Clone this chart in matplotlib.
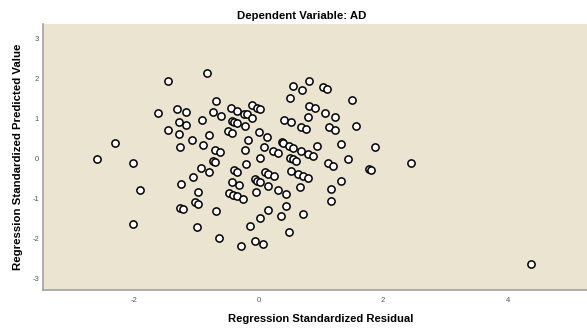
import matplotlib
matplotlib.use('Agg')
import matplotlib.pyplot as plt

# standardized residual (x) vs standardized predicted value (y)
resid = [
    -1.45, -0.83, -1.61, -1.31, -1.16, -0.68, -0.73, -0.60, -0.91, -1.27,
    -1.16, -1.45, -1.27, -1.06, -0.79, -1.25, -0.88, -0.70, -0.62, -0.44,
    -0.35, -0.42, -0.39, -0.35, -0.22, -0.49, -0.42, -0.23, -0.18, -0.10,
    -0.10, -0.02, 0.03, 0.01, 0.14, -0.16, 0.09, -0.22, 0.03,
    0.56, 0.81, 0.70, 1.03, 1.10, 0.51, 1.50, 0.81, 0.90, 1.07,
    1.23, 0.79, 0.41, 0.53, 0.68, 0.76, 1.14, 1.23, 1.57, 0.38,
    0.40, 0.49, 0.55, 0.94, 1.32, 1.87, 0.24, 0.32, 0.69, 0.80,
    0.88, 0.50, 0.56, 1.44,
    0.60, 1.12, 1.20, 1.77, 1.81, 0.11, 0.16, 0.25, 0.53, 0.64,
    0.72, 0.79, 1.32, 0.16, 0.32, 0.44, 0.67, 1.16, 1.17, 0.45,
    0.16, 0.36, 0.72, 0.49, 0.08,
    -0.72, -0.69, -0.20, -0.92, -0.79, -1.05, -1.24, -0.39, -0.34, -0.42,
    -0.31, -0.06, -0.02, 0.03, -0.96, -0.47, -0.40, -0.34, -0.24, -0.04,
    -1.02, -0.97, -1.25, -1.20, -0.68, 0.02, -0.14, -0.99, -0.63, -0.28,
    -0.05,
    -2.59, -2.29, -2.01, -1.89, -2.01, 2.45, 4.37,
]
predicted = [
    1.94, 2.13, 1.14, 1.24, 1.15, 1.43, 1.15, 1.07, 0.97, 0.91,
    0.84, 0.72, 0.60, 0.46, 0.58, 0.28, 0.33, 0.22, 0.17, 1.26,
    1.19, 0.93, 0.91, 0.88, 0.81, 0.68, 0.64, 1.12, 1.10, 1.02,
    1.34, 1.27, 1.23, 0.65, 0.54, 0.45, 0.28, 0.20, 0.02,
    1.80, 1.92, 1.70, 1.78, 1.73, 1.52, 1.46, 1.32, 1.26, 1.14,
    1.03, 1.03, 0.97, 0.90, 0.79, 0.74, 0.78, 0.72, 0.80, 0.40,
    0.38, 0.32, 0.27, 0.32, 0.36, 0.28, 0.19, 0.14, 0.18, 0.10,
    0.05, 0.01, -0.01, -0.01,
    -0.07, -0.11, -0.18, -0.26, -0.28, -0.33, -0.38, -0.44, -0.32, -0.40,
    -0.44, -0.50, -0.56, -0.68, -0.78, -0.88, -0.72, -0.76, -1.07, -1.18,
    -1.28, -1.43, -1.38, -1.83, -2.15,
    -0.07, -0.09, -0.13, -0.25, -0.33, -0.47, -0.63, -0.30, -0.34, -0.58,
    -0.66, -0.52, -0.56, -0.59, -0.83, -0.86, -0.91, -0.95, -1.01, -0.84,
    -1.09, -1.13, -1.23, -1.27, -1.32, -1.49, -1.68, -1.72, -1.98, -2.20,
    -2.06,
    -0.02, 0.39, -0.11, -0.80, -1.63, -0.11, -2.65,
]

x_ticks = [-2, 0, 2, 4]
y_ticks = [-3, -2, -1, 0, 1, 2, 3]

plt.rcParams['font.family'] = ['Liberation Sans', 'DejaVu Sans']
plt.rcParams['axes.unicode_minus'] = False

fig = plt.figure(figsize=(5.87, 3.29), dpi=100)
ax = fig.add_axes([0.0738, 0.1176, 0.9255, 0.8094])
ax.set_facecolor('#EAE4D1')

ax.scatter(resid, predicted, s=27, facecolors='white', edgecolors='black',
           linewidths=1.1, zorder=3)

ax.set_xlim(-3.446, 5.26)
ax.set_ylim(-3.30, 3.357)
ax.set_xticks(x_ticks)
ax.set_yticks(y_ticks)
ax.tick_params(axis='x', length=0, labelsize=5.5, labelcolor='#555555', pad=4.5)
ax.tick_params(axis='y', length=0, labelsize=5.5, labelcolor='#555555', pad=3)

for side in ['top', 'right']:
    ax.spines[side].set_visible(False)
for side in ['left', 'bottom']:
    ax.spines[side].set_color('#A0A0A0')
    ax.spines[side].set_linewidth(1.2)

# SPSS puts the title a little left of the axes centre
ax.set_title('Dependent Variable: AD', fontsize=8.2, fontweight='bold', pad=3.5,
             x=0.475)
ax.set_xlabel('Regression Standardized Residual', fontsize=8.1,
              fontweight='bold', labelpad=8)
ax.xaxis.set_label_coords(0.511, -0.09)
ax.set_ylabel('Regression Standardized Predicted Value', fontsize=8.2,
              fontweight='bold', labelpad=7)

fig.savefig('out.png', dpi=100)
